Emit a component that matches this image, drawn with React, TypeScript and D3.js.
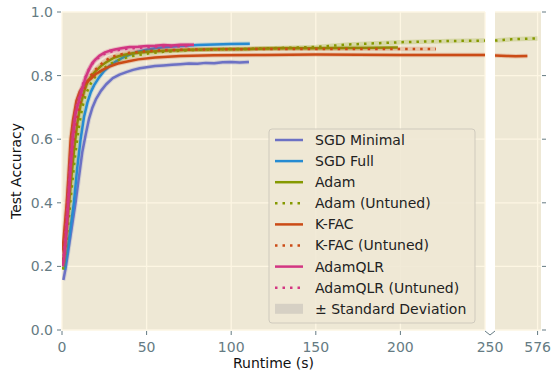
import React, { useRef, useEffect } from 'react';
import { select, scaleLinear, line, curveLinear } from 'd3';

type Pt = [number, number];

// [runtime (s), test accuracy]
const sgdMinimal: Pt[] = [[0.8,0.157],[2,0.19],[4,0.26],[6,0.33],[8,0.4],[10,0.48],[12,0.56],[14,0.615],[16,0.665],[18,0.7],[20,0.725],[23,0.752],[26,0.772],[30,0.792],[34,0.803],[38,0.811],[42,0.818],[46,0.823],[50,0.826],[55,0.83],[60,0.832],[65,0.834],[70,0.836],[75,0.838],[80,0.837],[85,0.84],[90,0.839],[95,0.842],[100,0.843],[105,0.841],[110.5,0.843]];
const sgdFull: Pt[] = [[1.5,0.19],[3,0.24],[5,0.32],[7,0.4],[9,0.51],[11,0.6],[13,0.67],[15,0.715],[17,0.748],[19,0.77],[22,0.795],[25,0.815],[28,0.83],[32,0.845],[36,0.857],[40,0.866],[45,0.875],[50,0.881],[55,0.886],[60,0.889],[70,0.893],[80,0.896],[90,0.898],[100,0.899],[111,0.9]];
const adam: Pt[] = [[0.5,0.2],[2,0.27],[3.5,0.36],[5,0.45],[7,0.56],[9,0.65],[11,0.71],[13,0.75],[15,0.78],[17.5,0.8],[20,0.815],[23,0.83],[27,0.845],[31,0.857],[36,0.865],[42,0.87],[51,0.875],[60,0.878],[75,0.881],[90,0.883],[110,0.884],[130,0.886],[150,0.886],[170,0.887],[198.5,0.888]];
const adamUntuned: Pt[] = [[0.5,0.19],[2,0.25],[4,0.35],[6,0.46],[8,0.56],[10,0.64],[12,0.7],[14,0.74],[17,0.775],[20,0.8],[24,0.82],[28,0.835],[33,0.848],[40,0.86],[50,0.869],[60,0.875],[75,0.88],[90,0.883],[110,0.884],[130,0.887],[150,0.89],[170,0.898],[200,0.905],[230,0.909],[250,0.91],[526,0.91],[535,0.912],[545,0.914],[555,0.915],[565,0.916],[576,0.917]];
const kfac: Pt[] = [[0.3,0.25],[1,0.29],[2,0.35],[2.8,0.4],[4,0.5],[5.1,0.6],[6.5,0.66],[8.5,0.72],[10.5,0.75],[13,0.77],[15,0.782],[17,0.79],[20,0.805],[24,0.818],[28,0.828],[33,0.838],[40,0.846],[45,0.851],[55,0.857],[70,0.862],[90,0.864],[120,0.865],[150,0.866],[200,0.865],[250,0.865],[526,0.863],[540,0.862],[550,0.861],[564,0.862]];
const kfacUntuned: Pt[] = [[0.5,0.22],[2,0.3],[3.5,0.4],[5,0.5],[7,0.6],[9,0.67],[11,0.72],[14,0.77],[17,0.8],[20,0.82],[24,0.84],[28,0.855],[33,0.865],[40,0.872],[50,0.877],[60,0.88],[80,0.882],[100,0.883],[130,0.884],[160,0.884],[190,0.884],[221,0.884]];
const adamQLR: Pt[] = [[0.5,0.2],[1.5,0.24],[2.5,0.3],[3.7,0.4],[5,0.51],[6.3,0.6],[8,0.68],[10,0.72],[12,0.76],[14,0.795],[16,0.82],[18,0.84],[20,0.852],[22,0.862],[25,0.872],[28,0.878],[32,0.883],[36,0.887],[40,0.89],[45,0.891],[50,0.893],[55,0.894],[60,0.896],[65,0.895],[70,0.897],[78,0.897]];
const adamQLRUntuned: Pt[] = [[0.5,0.21],[1.5,0.26],[2.5,0.33],[3.7,0.42],[5,0.53],[6.5,0.62],[8.5,0.7],[10.5,0.74],[12.5,0.775],[15,0.81],[17,0.83],[19,0.845],[22,0.858],[25,0.868],[30,0.877],[35,0.882],[42,0.886],[50,0.889],[58,0.891],[66,0.892],[75,0.893]];

const seriesNames = ['SGD Minimal', 'SGD Full', 'Adam', 'Adam (Untuned)', 'K-FAC', 'K-FAC (Untuned)', 'AdamQLR', 'AdamQLR (Untuned)'];
const seriesData = [sgdMinimal, sgdFull, adam, adamUntuned, kfac, kfacUntuned, adamQLR, adamQLRUntuned];
const seriesColors = ['#6c71c4', '#268bd2', '#859900', '#859900', '#cb4b16', '#cb4b16', '#d33682', '#d33682'];
const seriesDotted = [false, false, false, true, false, true, false, true];

const yTicks = [0, 0.2, 0.4, 0.6, 0.8, 1.0];
const xTicksMain = [0, 50, 100, 150, 200];
const xTicksSide = [576];

const W = 553, H = 373;
const FONT = 'DejaVu Sans, sans-serif';
const FS = 14;
const BG = '#eee8d5';
const TICK = '#657b83';

const App: React.FC = () => {
  const svgRef = useRef<SVGSVGElement | null>(null);

  useEffect(() => {
    document.body.style.margin = '0';
    if (!svgRef.current) return;
    const svg = select(svgRef.current);
    svg.selectAll('*').remove();

    const top = 12, bottom = 330;
    const y = scaleLinear().domain([0, 1]).range([bottom, top]);
    const xMain = scaleLinear().domain([0, 250]).range([62, 485]);
    const xSide = scaleLinear().domain([526, 580]).range([495, 541]);

    const panels = [
      { x: xMain, id: 'clipMain', lo: 0, hi: 250 },
      { x: xSide, id: 'clipSide', lo: 526, hi: 580 },
    ];

    const defs = svg.append('defs');
    panels.forEach(p => {
      const [a, b] = p.x.range();
      defs.append('clipPath').attr('id', p.id)
        .append('rect').attr('x', a).attr('y', top).attr('width', b - a).attr('height', bottom - top);
    });

    panels.forEach(p => {
      const [a, b] = p.x.range();
      svg.append('rect').attr('x', a).attr('y', top).attr('width', b - a).attr('height', bottom - top).attr('fill', BG);
      const grid = svg.append('g');
      yTicks.forEach(t => {
        grid.append('line').attr('x1', a).attr('x2', b).attr('y1', y(t)).attr('y2', y(t))
          .attr('stroke', '#fdf6e3').attr('stroke-width', 1.3);
      });
      const xt = p.id === 'clipMain' ? [...xTicksMain, 250] : xTicksSide;
      xt.forEach(t => {
        grid.append('line').attr('x1', p.x(t)).attr('x2', p.x(t)).attr('y1', top).attr('y2', bottom)
          .attr('stroke', '#fdf6e3').attr('stroke-width', 1.3);
      });
    });

    // series
    seriesData.forEach((d, i) => {
      panels.forEach(p => {
        const pts = d.filter(v => v[0] >= p.lo && v[0] <= p.hi);
        if (pts.length < 2) return;
        const gen = line<Pt>().x(v => p.x(v[0])).y(v => y(v[1])).curve(curveLinear);
        const g = svg.append('g').attr('clip-path', `url(#${p.id})`);
        g.append('path').attr('d', gen(pts)).attr('fill', 'none')
          .attr('stroke', seriesColors[i]).attr('stroke-opacity', 0.22).attr('stroke-width', 4.5)
          .attr('stroke-linejoin', 'round');
        g.append('path').attr('d', gen(pts)).attr('fill', 'none')
          .attr('stroke', seriesColors[i]).attr('stroke-width', 2.5)
          .attr('stroke-dasharray', seriesDotted[i] ? '2.5 5' : null)
          .attr('stroke-linejoin', 'round');
      });
    });

    // y axis
    const yAxis = svg.append('g');
    yTicks.forEach(t => {
      yAxis.append('line').attr('x1', 57).attr('x2', 61).attr('y1', y(t)).attr('y2', y(t)).attr('stroke', TICK).attr('stroke-width', 1);
      yAxis.append('text').attr('x', 53).attr('y', y(t)).attr('dy', '0.35em').attr('text-anchor', 'end')
        .attr('font-family', FONT).attr('font-size', FS).attr('fill', TICK).text(t.toFixed(1));
      yAxis.append('line').attr('x1', 542).attr('x2', 546).attr('y1', y(t)).attr('y2', y(t)).attr('stroke', TICK).attr('stroke-width', 1);
    });
    svg.append('text').attr('transform', `translate(21,${(top + bottom) / 2}) rotate(-90)`)
      .attr('text-anchor', 'middle').attr('font-family', FONT).attr('font-size', FS).attr('fill', '#111')
      .text('Test Accuracy');

    // x axis
    const xAxis = svg.append('g');
    const xTick = (px: number, label: string) => {
      xAxis.append('line').attr('x1', px).attr('x2', px).attr('y1', bottom + 1).attr('y2', bottom + 5).attr('stroke', TICK);
      xAxis.append('text').attr('x', px).attr('y', bottom + 22).attr('text-anchor', 'middle')
        .attr('font-family', FONT).attr('font-size', FS).attr('fill', TICK).text(label);
    };
    xTicksMain.forEach(t => xTick(xMain(t), String(t)));
    xTicksSide.forEach(t => xTick(xSide(t), String(t)));
    // break marker + its label
    const bx = (xMain.range()[1] + xSide.range()[0]) / 2;
    xAxis.append('path').attr('d', `M${bx - 5},${bottom + 1}L${bx},${bottom + 5}L${bx + 5},${bottom + 1}`)
      .attr('fill', 'none').attr('stroke', TICK).attr('stroke-width', 1);
    xAxis.append('text').attr('x', bx).attr('y', bottom + 22).attr('text-anchor', 'middle')
      .attr('font-family', FONT).attr('font-size', FS).attr('fill', TICK).text('250');
    svg.append('text').attr('x', (xMain.range()[0] + xMain.range()[1]) / 2).attr('y', 368)
      .attr('text-anchor', 'middle').attr('font-family', FONT).attr('font-size', FS).attr('fill', '#111')
      .text('Runtime (s)');

    // legend
    const lg = svg.append('g').attr('transform', 'translate(269,129)');
    lg.append('rect').attr('width', 206).attr('height', 194).attr('rx', 3)
      .attr('fill', BG).attr('fill-opacity', 0.85).attr('stroke', '#cfcabd').attr('stroke-width', 1);
    const rowH = 21.1;
    seriesNames.forEach((name, i) => {
      const ry = 11 + i * rowH;
      lg.append('line').attr('x1', 6).attr('x2', 34).attr('y1', ry).attr('y2', ry)
        .attr('stroke', seriesColors[i]).attr('stroke-width', 2.5)
        .attr('stroke-dasharray', seriesDotted[i] ? '2.5 5' : null);
      lg.append('text').attr('x', 46).attr('y', ry).attr('dy', '0.35em')
        .attr('font-family', FONT).attr('font-size', FS).attr('fill', '#222').text(name);
    });
    const sy = 11 + 8 * rowH;
    lg.append('rect').attr('x', 6).attr('y', sy - 5).attr('width', 28).attr('height', 10).attr('fill', '#d6d0c4');
    lg.append('text').attr('x', 46).attr('y', sy).attr('dy', '0.35em')
      .attr('font-family', FONT).attr('font-size', FS).attr('fill', '#222').text('± Standard Deviation');
  }, []);

  return (
    <div style={{ width: W, height: H }}>
      <svg ref={svgRef} width={W} height={H} style={{ display: 'block', background: '#fff' }}></svg>
    </div>
  );
};

export default App;
